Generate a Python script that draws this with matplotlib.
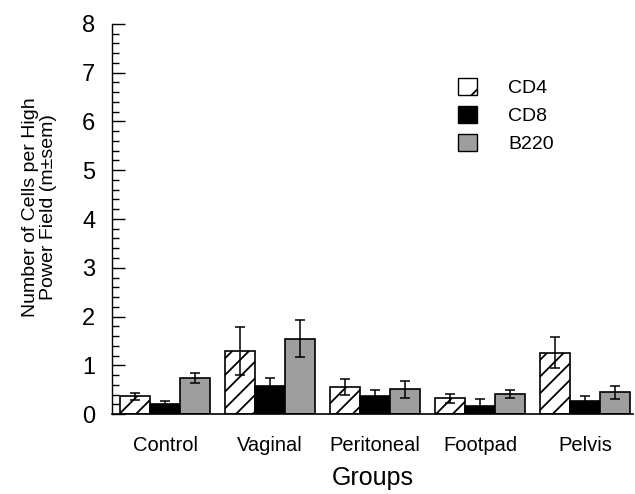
import numpy as np
import matplotlib
matplotlib.use('Agg')
import matplotlib.pyplot as plt
from matplotlib.patches import Patch
from matplotlib.ticker import MultipleLocator

plt.rcParams['font.family'] = ['Liberation Sans', 'DejaVu Sans']
plt.rcParams['hatch.linewidth'] = 1.3

# values
groups = ['Control', 'Vaginal', 'Peritoneal', 'Footpad', 'Pelvis']
cd4 = [0.36, 1.29, 0.55, 0.32, 1.26]
cd4_sem = [0.08, 0.50, 0.16, 0.09, 0.31]
cd8 = [0.20, 0.58, 0.375, 0.165, 0.27]
cd8_sem = [0.07, 0.15, 0.12, 0.14, 0.09]
b220 = [0.745, 1.545, 0.505, 0.41, 0.445]
b220_sem = [0.10, 0.38, 0.17, 0.09, 0.13]

fig = plt.figure(figsize=(6.35, 4.94), dpi=100)
ax = fig.add_axes([112 / 635, 80 / 494, 521 / 635, 390 / 494])

x = np.arange(len(groups))
w = 30 / 105

err_kw = dict(ecolor='black', elinewidth=1.1, capsize=3.6, capthick=1.1)
ax.bar(x - w, cd4, w, yerr=cd4_sem, color='white', edgecolor='black',
       hatch='//', linewidth=1.2, error_kw=err_kw, zorder=2)
ax.bar(x, cd8, w, yerr=cd8_sem, color='black', edgecolor='black',
       linewidth=1.2, error_kw=err_kw, zorder=2)
ax.bar(x + w, b220, w, yerr=b220_sem, color='#9e9e9e', edgecolor='black',
       linewidth=1.2, error_kw=err_kw, zorder=2)

ax.set_xlim(-0.505, 4.457)
ax.set_ylim(0, 8)
ax.spines['top'].set_visible(False)
ax.spines['right'].set_visible(False)
ax.spines['left'].set_linewidth(1.0)
ax.spines['bottom'].set_linewidth(1.2)

ax.yaxis.set_major_locator(MultipleLocator(1))
ax.yaxis.set_minor_locator(MultipleLocator(0.2))
ax.tick_params(axis='y', which='major', direction='in', length=9, width=1,
               labelsize=17, pad=12)
ax.tick_params(axis='y', which='minor', direction='in', length=5, width=1)
ax.set_xticks(x)
ax.set_xticklabels(groups)
ax.tick_params(axis='x', length=0, labelsize=14.5, pad=16)

ax.set_xlabel('Groups', fontsize=18, labelpad=8)
ax.set_ylabel('Number of Cells per High\nPower Field (m\u00b1sem)', fontsize=14,
              linespacing=1.1)
ax.yaxis.set_label_coords(-0.105, 0.53)

handles = [Patch(facecolor='white', edgecolor='black', hatch='/'),
           Patch(facecolor='black', edgecolor='black'),
           Patch(facecolor='#9e9e9e', edgecolor='black')]
ax.legend(handles, ['CD4', 'CD8', 'B220'], loc='upper left',
          bbox_to_anchor=(0.664, 0.862), frameon=False, fontsize=14,
          handlelength=1.0, handleheight=1.0, handletextpad=1.6,
          labelspacing=0.45, borderpad=0, borderaxespad=0)

fig.savefig('out.png', dpi=100)
